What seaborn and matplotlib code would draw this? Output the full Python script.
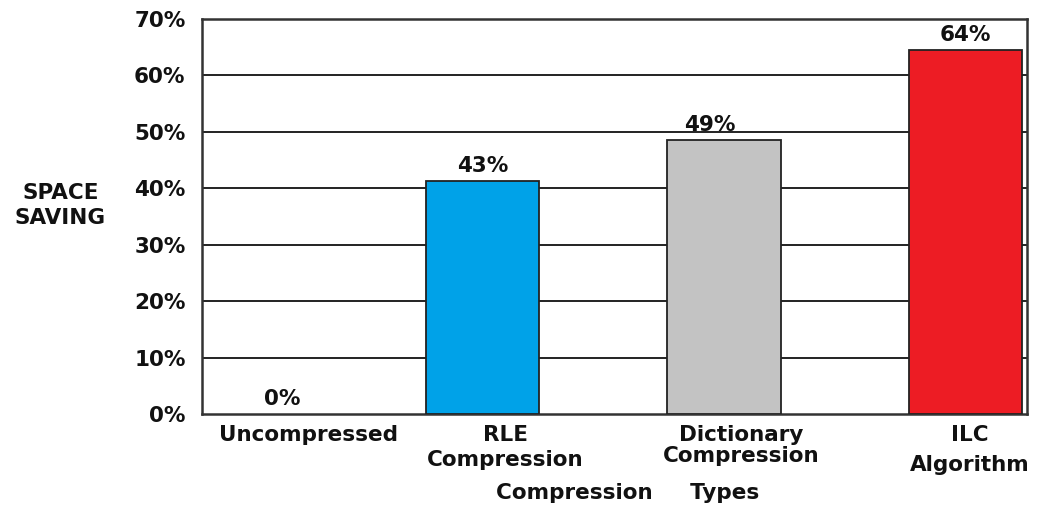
import numpy as np
import pandas as pd
import matplotlib
matplotlib.use('Agg')
import matplotlib.pyplot as plt
import seaborn as sns

# data
categories = ['Uncompressed', 'RLE\nCompression', 'Dictionary\nCompression', 'ILC\nAlgorithm']
saving = [0.0, 41.3, 48.6, 64.5]           # bar heights as drawn
saving_labels = ['0%', '43%', '49%', '64%']  # labels as printed on the chart
colors = ['#FFFFFF', '#00A2E8', '#C3C3C3', '#ED1C24']
y_ticks = [0, 10, 20, 30, 40, 50, 60, 70]

sns.set_theme(style='white')
plt.rcParams['font.family'] = ['DejaVu Sans']
plt.rcParams['font.weight'] = 'bold'

df = pd.DataFrame({'type': categories, 'saving': saving})

fig = plt.figure(figsize=(10.42, 5.07), dpi=100)
ax = fig.add_axes([0.194, 0.183, 0.792, 0.780])

sns.barplot(data=df, x='type', y='saving', hue='type', palette=colors,
            legend=False, width=0.47, edgecolor='#222222', linewidth=1.3,
            saturation=1, ax=ax, zorder=3)
# the empty bar has no outline in the original
for p in ax.patches:
    if p.get_height() == 0:
        p.set_edgecolor('none')

ax.set_ylim(0, 70)
ax.set_xlim(-0.16, 3.257)
ax.set_yticks(y_ticks)
ax.set_yticklabels(['%d%%' % t for t in y_ticks], fontsize=15.5, fontweight='bold', color='#111111')
for t in y_ticks[1:]:
    ax.axhline(t, color='#222222', lw=1.4, zorder=1)

ax.tick_params(axis='y', length=0, pad=12)
ax.tick_params(axis='x', length=0)
ax.set_xticks(range(len(categories)))
ax.set_xticklabels([''] * len(categories))

for side in ['left', 'bottom', 'right', 'top']:
    ax.spines[side].set_color('#333333')
    ax.spines[side].set_linewidth(1.8)

# category labels (shifted a bit like in the original)
lab_dx = [0.28, 0.095, 0.07, 0.02]
lab_ls = [1.1, 1.3, 1.05, 1.6]
for i, name in enumerate(categories):
    ax.text(i + lab_dx[i], -1.9, name, ha='center', va='top', fontsize=15.5,
            fontweight='bold', color='#111111', linespacing=lab_ls[i])

# value labels above the bars
val_dx = [0.17, 0.0, -0.06, 0.0]
for i, v in enumerate(saving):
    ax.text(i + val_dx[i], v + 0.9, saving_labels[i], ha='center', va='bottom',
            fontsize=15.5, fontweight='bold', color='#111111')

ax.set_xlabel('')
ax.set_ylabel('')
fig.text(0.058, 0.594, 'SPACE\nSAVING', ha='center', va='center', fontsize=15.5,
         fontweight='bold', color='#111111', linespacing=1.3)
fig.text(0.602, 0.008, 'Compression     Types', ha='center', va='bottom',
         fontsize=15.5, fontweight='bold', color='#111111')

fig.savefig('out.png', dpi=100)
